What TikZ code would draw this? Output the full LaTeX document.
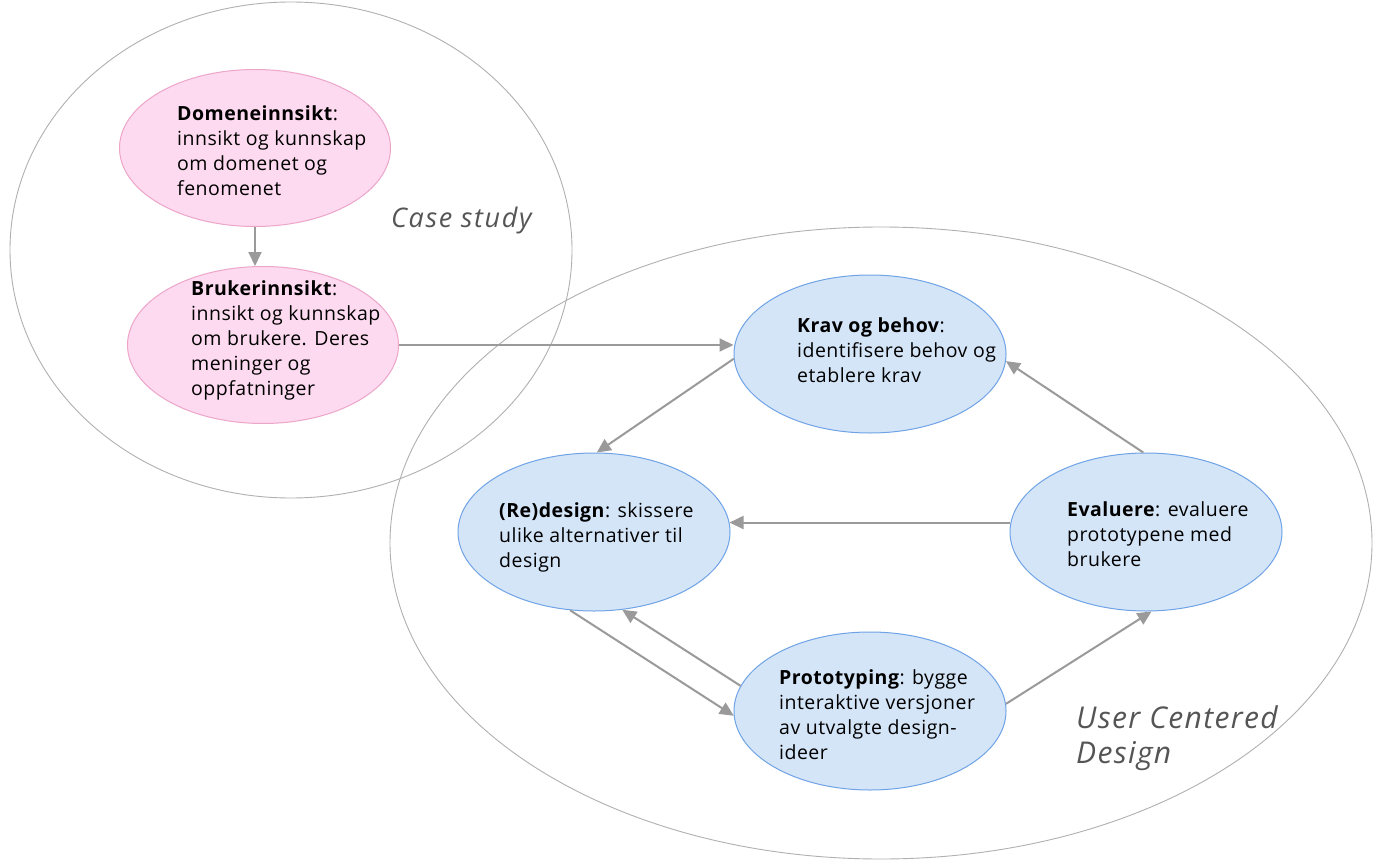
\documentclass[tikz,border=0pt]{standalone}
\usepackage{fontspec}
\setmainfont{Open Sans}
\newfontfamily\bodyfont[LetterSpace=2.5]{Open Sans}
\newfontfamily\casefont[LetterSpace=6]{Open Sans}
\newfontfamily\ucdfont[LetterSpace=4.5]{Open Sans}
\usetikzlibrary{shapes.geometric,arrows.meta}
\definecolor{pinkfill}{HTML}{FDDAF0}
\definecolor{pinkline}{HTML}{EDA5CA}
\definecolor{bluefill}{HTML}{D5E5F8}
\definecolor{blueline}{HTML}{6FA3E6}
\definecolor{areaLine}{HTML}{B0B0B0}
\definecolor{flow}{HTML}{9A9A9A}
\definecolor{areaText}{HTML}{555555}
\tikzset{
  area/.style={ellipse, draw=areaLine, line width=0.9pt, inner sep=0pt},
  pinkbox/.style={ellipse, draw=pinkline, fill=pinkfill, line width=1pt, inner sep=0pt,
    minimum width=271pt, minimum height=157pt},
  bluebox/.style={ellipse, draw=blueline, fill=bluefill, line width=1pt, inner sep=0pt,
    minimum width=272pt, minimum height=158pt},
  body/.style={anchor=north west, inner sep=0pt, align=left,
    font=\bodyfont\fontsize{19.5pt}{25pt}\selectfont},
  arealabel/.style={anchor=north west, inner sep=0pt, align=left, text=areaText},
  flowarrow/.style={draw=flow, line width=2pt,
    -{Triangle[length=14pt, width=13pt]}}
}
\begin{document}
\begin{tikzpicture}[x=1pt, y=-1pt]
\useasboundingbox (0,0) rectangle (1378,861);
\fill[white] (0,0) rectangle (1378,861);

% surrounding areas
\node[area, minimum width=562pt, minimum height=496pt] (casearea) at (291,250) {};
\node[area, minimum width=982pt, minimum height=632pt] (ucdarea) at (881,543) {};

% case study nodes
\node[pinkbox] (dom) at (255,148) {};
\node[pinkbox] (bruk) at (263,345) {};
% user centred design nodes
\node[bluebox] (krav) at (870,354) {};
\node[bluebox] (redesign) at (594,532) {};
\node[bluebox] (eval) at (1146,532) {};
\node[bluebox] (proto) at (870,711) {};

% texts
\node[body] (domtext) at (177,105) {\textbf{Domeneinnsikt}:\\innsikt og kunnskap\\om domenet og\\fenomenet};
\node[body] (bruktext) at (191,280) {\textbf{Brukerinnsikt}:\\innsikt og kunnskap\\om brukere. Deres\\meninger og\\oppfatninger};
\node[body] (kravtext) at (797,317) {\textbf{Krav og behov}:\\identifisere behov og\\etablere krav};
\node[body] (redesigntext) at (499,502) {\textbf{(Re)design}: skissere\\ulike alternativer til\\design};
\node[body] (evaltext) at (1067,501) {\textbf{Evaluere}: evaluere\\prototypene med\\brukere};
\node[body] (prototext) at (779,669) {\textbf{Prototyping}: bygge\\interaktive versjoner\\av utvalgte design-\\ideer};

\node[arealabel, font=\casefont\fontsize{27pt}{32pt}\selectfont\itshape] (caselabel) at (391,207) {Case study};
\node[arealabel, font=\ucdfont\fontsize{30pt}{35pt}\selectfont\itshape] (ucdlabel) at (1076,705) {User Centered\\Design};

% connectors
\draw[flowarrow] (dom.south) -- (dom.south |- bruk.north);
\draw[flowarrow] (bruk.east) -- (bruk.east -| krav.west);
\draw[flowarrow] (krav.182) -- (redesign.88);
\draw[flowarrow] (eval.92) -- (krav.357);
\draw[flowarrow] (eval.176) -- (redesign.4);
\draw[flowarrow] (redesign.253) -- (proto.182);
\draw[flowarrow] (proto.169) -- (redesign.290);
\draw[flowarrow] (proto.3) -- (eval.274);
\end{tikzpicture}
\end{document}
